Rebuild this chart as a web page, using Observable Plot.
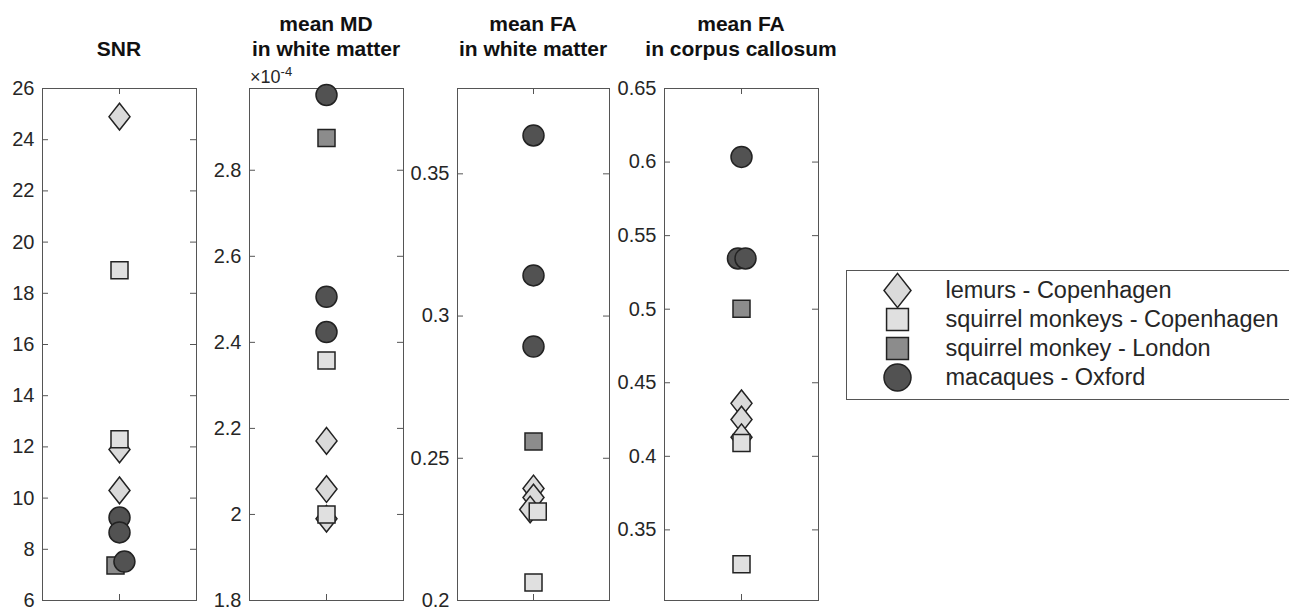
<!DOCTYPE html>
<html>
<head>
<meta charset="utf-8">
<script src="https://cdn.jsdelivr.net/npm/d3@7"></script>
<script src="https://cdn.jsdelivr.net/npm/@observablehq/plot@0.6"></script>
<style>
  html, body { margin: 0; padding: 0; background: #fff; overflow: hidden; }
  #fig { position: relative; width: 1289px; height: 607px; background: #fff;
         font-family: "Liberation Sans", Arial, Helvetica, sans-serif; color: #262626; }
  .title { position: absolute; width: 240px; bottom: 546px; text-align: center;
           font-weight: bold; font-size: 21px; line-height: 25px; color: #111; }
  .exp { position: absolute; font-size: 18px; color: #262626; }
  .exp sup { font-size: 13px; vertical-align: 7px; }
</style>
</head>
<body>
<div id="fig"></div>
<script>
// ---------- data ----------
const species = ["lemurs - Copenhagen", "squirrel monkeys - Copenhagen", "squirrel monkey - London", "macaques - Oxford"];
// group index of each subject (same order in every panel)
const subjectGroup = [0, 0, 0, 1, 1, 2, 3, 3, 3];

const panelTitles = [["SNR"], ["mean MD", "in white matter"], ["mean FA", "in white matter"], ["mean FA", "in corpus callosum"]];

const snrValues  = [24.9, 11.9, 10.3, 18.9, 12.3, 7.37, 9.24, 8.66, 7.52];
const snrX       = [1, 1, 1, 1, 1, 0.974, 1, 1, 1.032];
const snrTicks   = [6, 8, 10, 12, 14, 16, 18, 20, 22, 24, 26];

const mdValues   = [2.171, 2.059, 1.99, 2.358, 2.0, 2.875, 2.975, 2.506, 2.424]; // x 10^-4
const mdX        = [1, 1, 1, 1, 1, 1, 1, 1, 1];
const mdTicks    = [1.8, 2.0, 2.2, 2.4, 2.6, 2.8];

const faWmValues = [0.2394, 0.2362, 0.232, 0.2313, 0.2063, 0.2559, 0.3635, 0.3143, 0.2893];
const faWmX      = [1, 1, 0.978, 1.028, 1, 1, 1, 1, 1];
const faWmTicks  = [0.2, 0.25, 0.3, 0.35];

const faCcValues = [0.436, 0.425, 0.413, 0.409, 0.3267, 0.5003, 0.6035, 0.5345, 0.5345];
const faCcX      = [1, 1, 1, 1, 1, 1, 1, 0.977, 1.026];
const faCcTicks  = [0.35, 0.4, 0.45, 0.5, 0.55, 0.6, 0.65];

const xTicks = [1];

// ---------- styles ----------
const FONT = '"Liberation Sans", Arial, Helvetica, sans-serif';
const fills = ["#dadada", "#e0e0e0", "#8c8c8c", "#525252"];
const edge = "#222";
const axisColor = "#555";

const symDiamond = { draw(ctx, size) { const r = Math.sqrt(size / Math.PI), h = r * 1.27;
  ctx.moveTo(0, -h); ctx.lineTo(r, 0); ctx.lineTo(0, h); ctx.lineTo(-r, 0); ctx.closePath(); } };
const symSquare = { draw(ctx, size) { const s = Math.sqrt(size / Math.PI) * 0.81;
  ctx.moveTo(-s, -s); ctx.lineTo(s, -s); ctx.lineTo(s, s); ctx.lineTo(-s, s); ctx.closePath(); } };
const symbols = [symDiamond, symSquare, symSquare, d3.symbolCircle];

const fmt = d => String(+d.toFixed(3));

const fig = document.getElementById("fig");

const panels = [
  { values: snrValues,  xs: snrX,  domain: [6, 26],      ticks: snrTicks,  boxLeft: 42,  boxWidth: 154 },
  { values: mdValues,   xs: mdX,   domain: [1.8, 2.99],  ticks: mdTicks,   boxLeft: 249, boxWidth: 154 },
  { values: faWmValues, xs: faWmX, domain: [0.2, 0.38],  ticks: faWmTicks, boxLeft: 457, boxWidth: 152 },
  { values: faCcValues, xs: faCcX, domain: [0.302, 0.65], ticks: faCcTicks, boxLeft: 664, boxWidth: 154 }
];

const BOX_TOP = 88, BOX_H = 512;
const mL = 60, mR = 10, mT = 20, mB = 20;

panels.forEach((p, k) => {
  const data = p.values.map((v, i) => ({ v, x: p.xs[i], g: subjectGroup[i] }));
  const W = p.boxWidth;
  const marks = [
    Plot.frame({ stroke: axisColor, strokeWidth: 1 }),
    Plot.tickY(p.ticks, { y: d => d, insetRight: W - 6, stroke: axisColor }),
    Plot.tickY(p.ticks, { y: d => d, insetLeft: W - 6, stroke: axisColor }),
    Plot.tickX(xTicks, { x: d => d, insetBottom: BOX_H - 6, stroke: axisColor }),
    Plot.tickX(xTicks, { x: d => d, insetTop: BOX_H - 6, stroke: axisColor }),
    Plot.axisY({ ticks: p.ticks, tickSize: 0, tickPadding: 8, tickFormat: fmt, fontSize: 20, label: null }),
    ...species.map((name, gi) => Plot.dot(data.filter(d => d.g === gi), {
      x: "x", y: "v", r: 10.5, symbol: symbols[gi], fill: fills[gi], stroke: edge, strokeWidth: 1.5
    }))
  ];
  const svg = Plot.plot({
    width: mL + W + mR, height: mT + BOX_H + mB,
    marginLeft: mL, marginRight: mR, marginTop: mT, marginBottom: mB,
    x: { domain: [0.5, 1.5], axis: null },
    y: { domain: p.domain },
    style: { background: "transparent", overflow: "visible", color: "#262626", fontFamily: FONT },
    marks
  });
  svg.style.position = "absolute";
  svg.style.left = (p.boxLeft - mL) + "px";
  svg.style.top = (BOX_TOP - mT) + "px";
  fig.appendChild(svg);

  const t = document.createElement("div");
  t.className = "title";
  t.style.left = (p.boxLeft + W / 2 - 120) + "px";
  t.innerHTML = panelTitles[k].join("<br>");
  fig.appendChild(t);
});

// exponent label of MD panel
const exp = document.createElement("div");
exp.className = "exp";
exp.style.left = "250px";
exp.style.top = "64px";
exp.innerHTML = "\u00d710<sup>-4</sup>";
fig.appendChild(exp);

// ---------- legend ----------
const legend = Plot.plot({
  width: 446, height: 131,
  marginTop: 1, marginLeft: 1, marginRight: 1, marginBottom: 1,
  y: { type: "point", domain: species, range: [20, 108], padding: 0, axis: null },
  style: { background: "transparent", overflow: "visible", color: "#262626", fontFamily: FONT },
  marks: [
    Plot.frame({ stroke: axisColor, strokeWidth: 1 }),
    ...species.map((name, gi) => Plot.dot([name], {
      y: d => d, frameAnchor: "left", dx: 51, r: 13.5, symbol: symbols[gi], fill: fills[gi], stroke: edge, strokeWidth: 1.5
    })),
    Plot.text(species, { y: d => d, text: d => d, frameAnchor: "left", dx: 99, textAnchor: "start", fontSize: 23.5, fill: "#262626" })
  ]
});
legend.style.position = "absolute";
legend.style.left = "845px";
legend.style.top = "269px";
fig.appendChild(legend);
</script>
</body>
</html>
